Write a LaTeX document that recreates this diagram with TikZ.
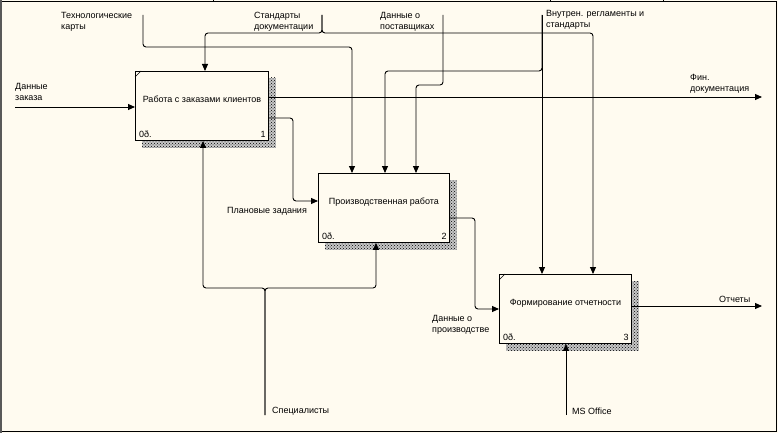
\documentclass[tikz,border=0pt]{standalone}
\usepackage{fontspec}
\setmainfont{Liberation Sans}
\usepackage{xcolor}
\usetikzlibrary{positioning,calc,arrows.meta,patterns,backgrounds}
\definecolor{paper}{RGB}{255,251,240}

\begin{document}
\begin{tikzpicture}[x=1pt, y=-1pt,
	every node/.style={font=\fontsize{9}{11.5}\selectfont, inner sep=0pt},
	func/.style={draw, line width=0.9pt, fill=paper, anchor=north west, minimum height=69pt},
	shade/.style={preaction={fill=black!22}, pattern=crosshatch dots, pattern color=black},
	lbl/.style={align=left, anchor=north west},
	flow/.style={line width=0.9pt, rounded corners=3pt, -{Triangle[length=7pt,width=6pt]}},
	link/.style={line width=0.9pt, rounded corners=3pt}
	]
	\useasboundingbox (0,0) rectangle (778,433);
	
	% functions
	\node[func, minimum width=133pt] (zakazy) at (135,71) {};
	\node[func, minimum width=131pt] (proizv) at (318,173) {};
	\node[func, minimum width=132pt] (otchet) at (499,274) {};
	
	\begin{scope}[on background layer]
		\fill[paper] (0,0) rectangle (778,433);
		\foreach \b in {zakazy,proizv,otchet}
		\fill[shade] ($(\b.north west)+(7,7)$) rectangle ($(\b.south east)+(7,7)$);
	\end{scope}
	
	\node at ($(zakazy.center)+(0,-7)$) {Работа с заказами клиентов};
	\node at ($(proizv.center)+(0,-6)$) {Производственная работа};
	\node at ($(otchet.center)+(0,-6)$) {Формирование отчетности};
	
	\foreach \b/\n in {zakazy/1,proizv/2,otchet/3} {
		\node[anchor=south west] at ($(\b.south west)+(4,-3)$) {0ð.};
		\node[anchor=south east] at ($(\b.south east)+(-3,-3)$) {\n};
	}
	\draw[line width=0.6pt] ($(zakazy.north west)+(0,6)$) -- ++(6,-6);
	\draw[line width=0.6pt] ($(otchet.north west)+(0,6)$) -- ++(6,-6);
	
	% frame
	\draw[line width=1pt] (1.5,1.5) rectangle (776.5,431);
	\draw[line width=2pt, black!65] (1,0) -- (1,433);
	\foreach \x in {213,550,663}
	\draw[line width=1pt] (\x,0) -- (\x,2);
	
	% free ends
	\coordinate (inZakaz) at (15,107);
	\coordinate (outFin) at (762,97);
	\coordinate (outOtch) at (762,306);
	\coordinate (cTech) at (143,15);
	\coordinate (cStand) at (322,15);
	\coordinate (cPost) at (443,15);
	\coordinate (cVnutr) at (542,15);
	\coordinate (mSpec) at (265,415);
	\coordinate (mOffice) at (566,415);
	
	% inputs and outputs
	\draw[flow] (inZakaz) -- (zakazy.west |- inZakaz);
	\draw[flow] (zakazy.east |- outFin) -- (outFin);
	\draw[flow] (zakazy.east |- 0,118) -| (293,201) -- (proizv.west |- 0,201);
	\draw[flow] (proizv.east |- 0,218) -| (475,309) -- (otchet.west |- 0,309);
	\draw[flow] (otchet.east |- outOtch) -- (outOtch);
	
	% controls
	\draw[flow] (cTech) |- (352,47) -- (proizv.north -| 352,0);
	\draw[flow] (cStand) -- (322,33) -- (205,33) -- (zakazy.north -| 205,0);
	\draw[flow] (cStand) -- (322,33) -- (593,33) -- (otchet.north -| 593,0);
	\draw[flow] (cPost) |- (416,85) -- (proizv.north -| 416,0);
	\draw[flow] (cVnutr) -- (otchet.north -| cVnutr);
	\draw[flow] (cVnutr) -- (542,71) -- (385,71) -- (proizv.north -| 385,0);
	
	% mechanisms
	\draw[flow] (mOffice) -- (otchet.south -| mOffice);
	\draw[flow] (mSpec) -- (265,288) -- (203,288) -- (zakazy.south -| 203,0);
	\draw[flow] (mSpec) -- (265,288) -- (376,288) -- (proizv.south -| 376,0);
	
	% arrow labels
	\node[lbl] at (15,83) {Данные\\заказа};
	\node[lbl] at (61,12) {Технологические\\карты};
	\node[lbl] at (254,12) {Стандарты\\документации};
	\node[lbl] at (380,12) {Данные о\\поставщиках};
	\node[lbl] at (546,10) {Внутрен. регламенты и\\стандарты};
	\node[lbl] at (690,74) {Фин.\\документация};
	\node[anchor=west] at (227,211) {Плановые задания};
	\node[lbl] at (432,315) {Данные о\\производстве};
	\node[anchor=west] at (719,299) {Отчеты};
	\node[anchor=west] at (272,411) {Специалисты};
	\node[anchor=west] at (572,411) {MS Office};
\end{tikzpicture}
\end{document}
